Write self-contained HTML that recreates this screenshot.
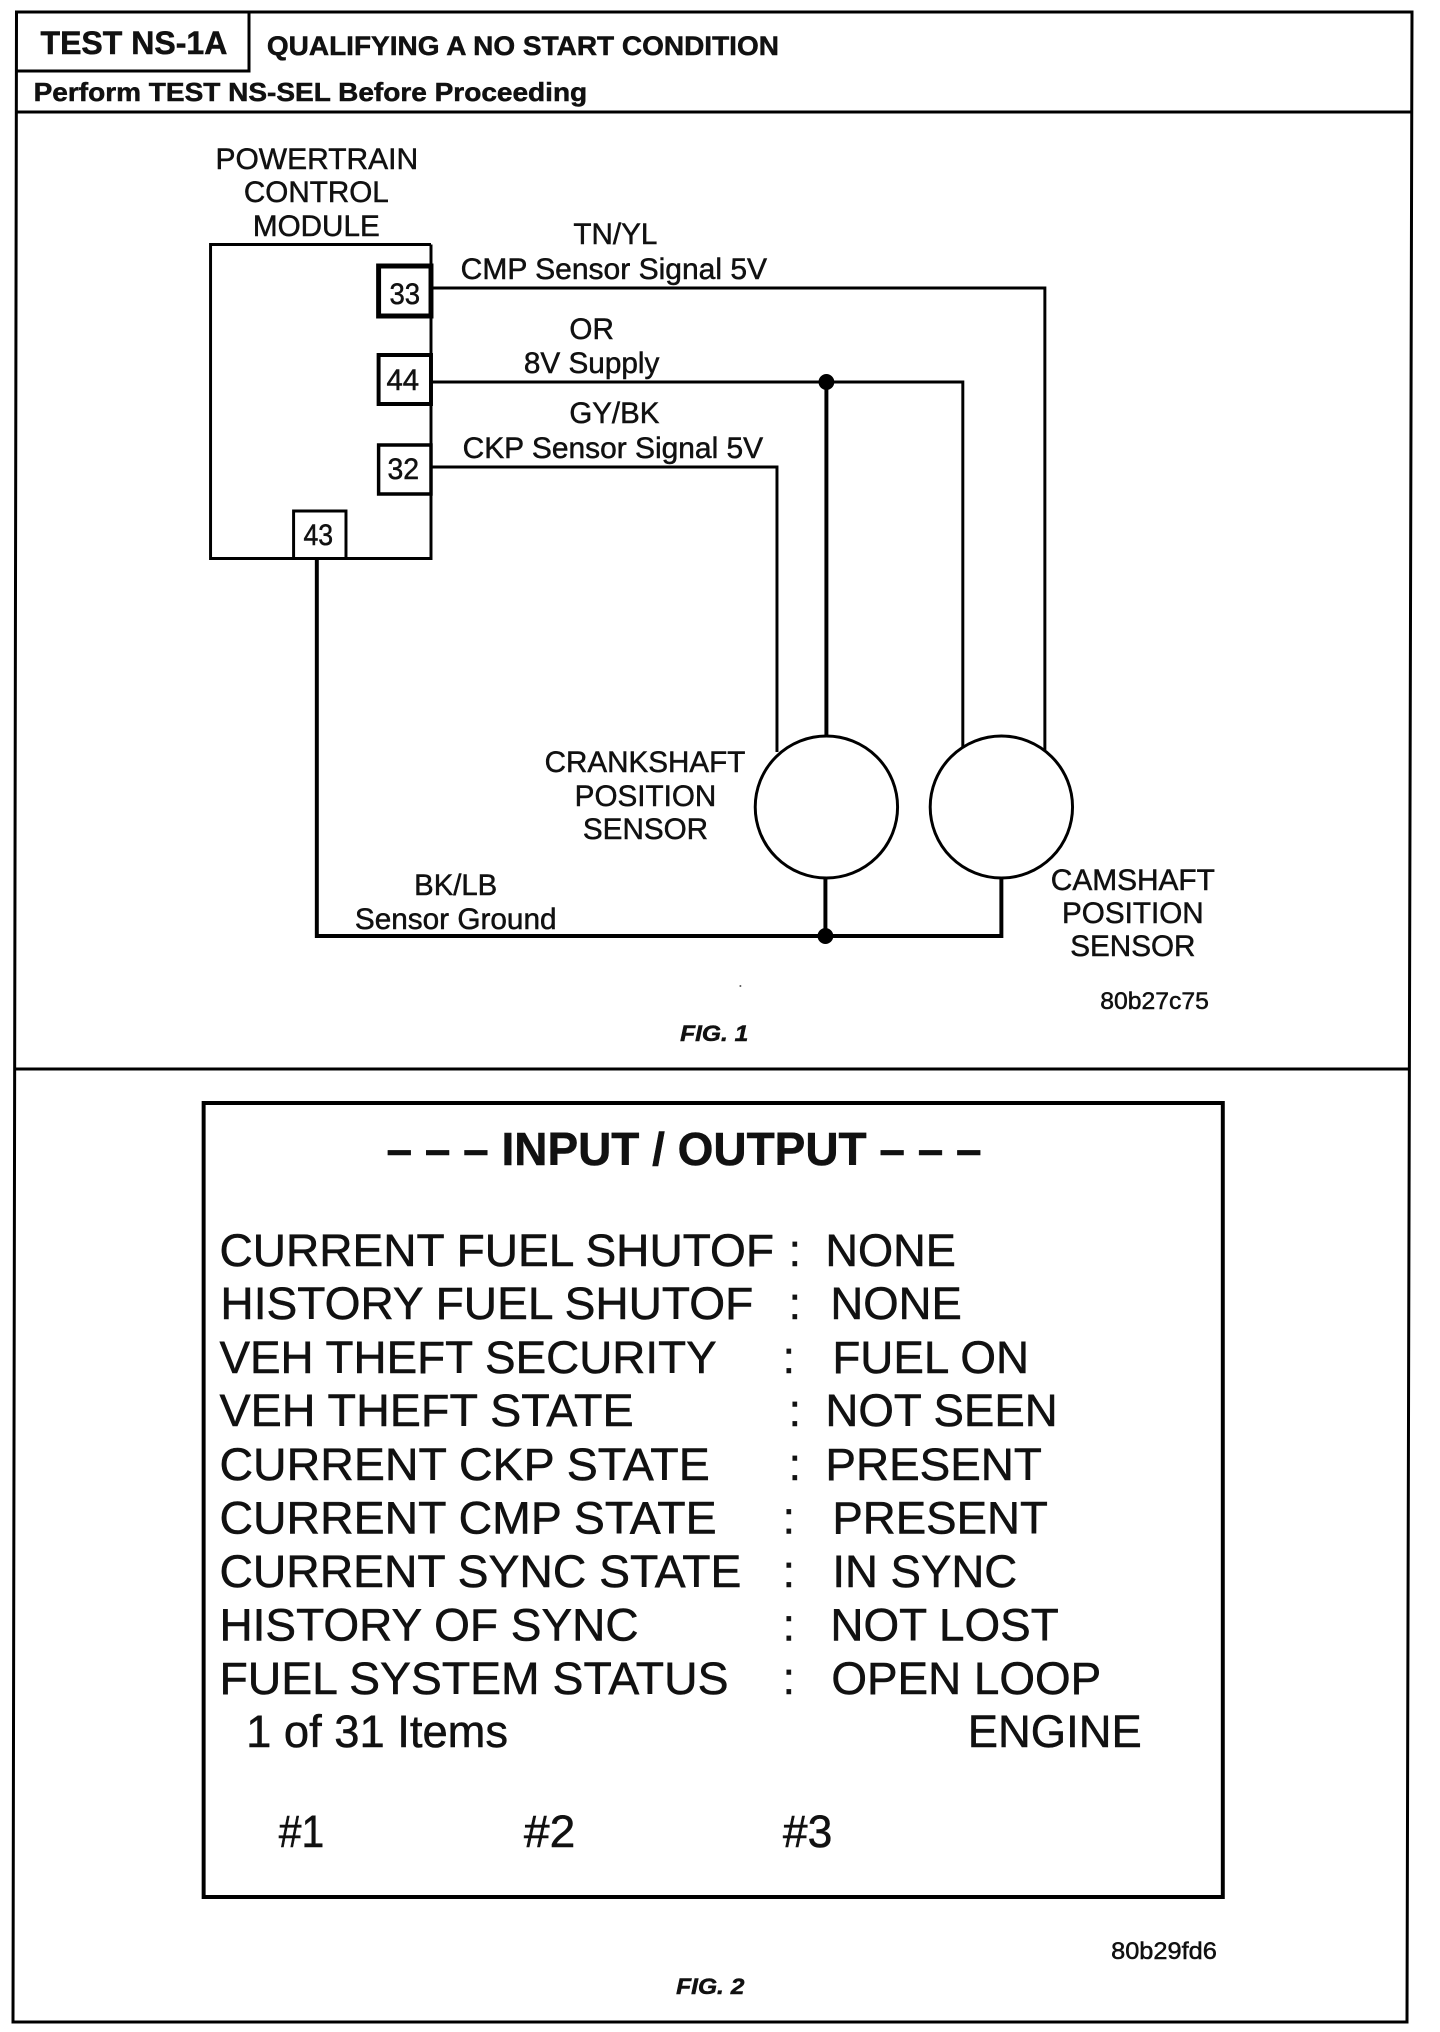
<!DOCTYPE html>
<html>
<head>
<meta charset="utf-8">
<style>
html,body{margin:0;padding:0;background:#fff;}
svg{display:block;}
text{font-family:"Liberation Sans",sans-serif;fill:#111;stroke:#111;stroke-width:.5;}
.b{font-weight:bold;}
.d{font-size:30px;}
.r{font-size:45px;}
.l{fill:none;stroke:#000;}
</style>
</head>
<body>
<svg width="1440" height="2032" viewBox="0 0 1440 2032" xmlns="http://www.w3.org/2000/svg">
<rect width="1440" height="2032" fill="#fff"/>
<!-- frame -->
<path class="l" stroke-width="3" d="M16.500 12H1412L1407 2022H13ZM16.500 112H1411M15 1069H1410M16.500 71H249V12"/>
<g transform="scale(.98852 1)">
<text class="b" x="41" y="54" font-size="32" textLength="189" lengthAdjust="spacingAndGlyphs">TEST NS-1A</text>
<text class="b" x="270" y="55" font-size="27" textLength="518" lengthAdjust="spacingAndGlyphs">QUALIFYING A NO START CONDITION</text>
<text class="b" x="34" y="101" font-size="26" textLength="560" lengthAdjust="spacingAndGlyphs">Perform TEST NS-SEL Before Proceeding</text>

<!-- module -->
<path class="l" stroke-width="3" d="M436 244.500H213V558.500H436V244.500"/>
<rect x="383" y="266" width="53" height="50" fill="#fff" stroke="#000" stroke-width="5"/>
<rect x="383" y="355" width="53" height="49" fill="#fff" stroke="#000" stroke-width="4"/>
<rect x="383" y="445" width="53" height="49" fill="#fff" stroke="#000" stroke-width="3.500"/>
<rect x="297" y="511" width="53" height="47.500" fill="#fff" stroke="#000" stroke-width="3"/>
<text class="d" x="394" y="304" textLength="31" lengthAdjust="spacingAndGlyphs">33</text>
<text class="d" x="391" y="390" textLength="33" lengthAdjust="spacingAndGlyphs">44</text>
<text class="d" x="392" y="479" textLength="32" lengthAdjust="spacingAndGlyphs">32</text>
<text class="d" x="307" y="545" textLength="30" lengthAdjust="spacingAndGlyphs">43</text>

<!-- wires -->
<path class="l" stroke-width="3" d="M436 288H1057V750"/>
<path class="l" stroke-width="3" d="M436 382H974V750"/>
<path class="l" stroke-width="3" d="M436 467H786V752"/>
<path class="l" stroke-width="4" d="M836 382V737"/>
<path class="l" stroke-width="4" d="M320.500 558V936H1013V878"/>
<path class="l" stroke-width="4" d="M835 878V936"/>
<circle cx="836" cy="382" r="8" fill="#000"/>
<circle cx="835" cy="936" r="8" fill="#000"/>
<ellipse cx="836" cy="807" rx="72" ry="71" fill="#fff" stroke="#000" stroke-width="3"/>
<ellipse cx="1013" cy="807" rx="72" ry="71" fill="#fff" stroke="#000" stroke-width="3"/>
<circle cx="749" cy="986" r="1" fill="#555"/>

<!-- labels -->
<text class="d" x="218" y="169" textLength="205" lengthAdjust="spacingAndGlyphs">POWERTRAIN</text>
<text class="d" x="320" y="202" text-anchor="middle">CONTROL</text>
<text class="d" x="320" y="236" text-anchor="middle">MODULE</text>
<text class="d" x="580" y="244" textLength="85" lengthAdjust="spacingAndGlyphs">TN/YL</text>
<text class="d" x="466" y="279" textLength="310" lengthAdjust="spacingAndGlyphs">CMP Sensor Signal 5V</text>
<text class="d" x="576" y="339" textLength="45" lengthAdjust="spacingAndGlyphs">OR</text>
<text class="d" x="530" y="373" textLength="137" lengthAdjust="spacingAndGlyphs">8V Supply</text>
<text class="d" x="576" y="423" textLength="91" lengthAdjust="spacingAndGlyphs">GY/BK</text>
<text class="d" x="468" y="458" textLength="304" lengthAdjust="spacingAndGlyphs">CKP Sensor Signal 5V</text>
<text class="d" x="551" y="772" textLength="203" lengthAdjust="spacingAndGlyphs">CRANKSHAFT</text>
<text class="d" x="653" y="806" text-anchor="middle">POSITION</text>
<text class="d" x="653" y="839" text-anchor="middle">SENSOR</text>
<text class="d" x="1063" y="890" textLength="166" lengthAdjust="spacingAndGlyphs">CAMSHAFT</text>
<text class="d" x="1146" y="923" text-anchor="middle">POSITION</text>
<text class="d" x="1146" y="956" text-anchor="middle">SENSOR</text>
<text class="d" x="419" y="895" textLength="84" lengthAdjust="spacingAndGlyphs">BK/LB</text>
<text class="d" x="359" y="929" textLength="204" lengthAdjust="spacingAndGlyphs">Sensor Ground</text>
<text x="1113" y="1009" font-size="24" textLength="110" lengthAdjust="spacingAndGlyphs">80b27c75</text>
<text class="b" x="688" y="1041" font-size="22" font-style="italic" textLength="69" lengthAdjust="spacingAndGlyphs">FIG. 1</text>

<!-- fig 2 -->
<rect x="206" y="1103" width="1031" height="794" fill="none" stroke="#000" stroke-width="4"/>
<text class="b" x="391" y="1165" font-size="46" textLength="602" lengthAdjust="spacingAndGlyphs">– – – INPUT / OUTPUT – – –</text>

<text class="r" x="222" y="1266" textLength="561" lengthAdjust="spacingAndGlyphs">CURRENT FUEL SHUTOF</text>
<text class="r" x="223" y="1319" textLength="539" lengthAdjust="spacingAndGlyphs">HISTORY FUEL SHUTOF</text>
<text class="r" x="222" y="1373" textLength="503" lengthAdjust="spacingAndGlyphs">VEH THEFT SECURITY</text>
<text class="r" x="222" y="1426" textLength="419" lengthAdjust="spacingAndGlyphs">VEH THEFT STATE</text>
<text class="r" x="222" y="1480" textLength="496" lengthAdjust="spacingAndGlyphs">CURRENT CKP STATE</text>
<text class="r" x="222" y="1533.500" textLength="503" lengthAdjust="spacingAndGlyphs">CURRENT CMP STATE</text>
<text class="r" x="222" y="1587" textLength="528" lengthAdjust="spacingAndGlyphs">CURRENT SYNC STATE</text>
<text class="r" x="222" y="1640.500" textLength="424" lengthAdjust="spacingAndGlyphs">HISTORY OF SYNC</text>
<text class="r" x="222" y="1694" textLength="515" lengthAdjust="spacingAndGlyphs">FUEL SYSTEM STATUS</text>
<text class="r" x="249" y="1747" textLength="265" lengthAdjust="spacingAndGlyphs">1 of 31 Items</text>

<text class="r" x="804" y="1266" text-anchor="middle">:</text>
<text class="r" x="804" y="1319" text-anchor="middle">:</text>
<text class="r" x="798" y="1373" text-anchor="middle">:</text>
<text class="r" x="804" y="1426" text-anchor="middle">:</text>
<text class="r" x="804" y="1480" text-anchor="middle">:</text>
<text class="r" x="798" y="1533.500" text-anchor="middle">:</text>
<text class="r" x="798" y="1587" text-anchor="middle">:</text>
<text class="r" x="798" y="1640.500" text-anchor="middle">:</text>
<text class="r" x="798" y="1694" text-anchor="middle">:</text>

<text class="r" x="835" y="1266" textLength="132" lengthAdjust="spacingAndGlyphs">NONE</text>
<text class="r" x="840" y="1319" textLength="133" lengthAdjust="spacingAndGlyphs">NONE</text>
<text class="r" x="842" y="1373" textLength="199" lengthAdjust="spacingAndGlyphs">FUEL ON</text>
<text class="r" x="835" y="1426" textLength="235" lengthAdjust="spacingAndGlyphs">NOT SEEN</text>
<text class="r" x="835" y="1480" textLength="219" lengthAdjust="spacingAndGlyphs">PRESENT</text>
<text class="r" x="842" y="1533.500" textLength="218" lengthAdjust="spacingAndGlyphs">PRESENT</text>
<text class="r" x="842" y="1587" textLength="187" lengthAdjust="spacingAndGlyphs">IN SYNC</text>
<text class="r" x="840" y="1640.500" textLength="231" lengthAdjust="spacingAndGlyphs">NOT LOST</text>
<text class="r" x="841" y="1694" textLength="273" lengthAdjust="spacingAndGlyphs">OPEN LOOP</text>
<text class="r" x="979" y="1747" textLength="176" lengthAdjust="spacingAndGlyphs">ENGINE</text>

<text class="r" x="282" y="1847" textLength="46" lengthAdjust="spacingAndGlyphs">#1</text>
<text class="r" x="530" y="1847" textLength="52" lengthAdjust="spacingAndGlyphs">#2</text>
<text class="r" x="792" y="1847" textLength="50" lengthAdjust="spacingAndGlyphs">#3</text>

<text x="1124" y="1959" font-size="24" textLength="107" lengthAdjust="spacingAndGlyphs">80b29fd6</text>
<text class="b" x="684" y="1994" font-size="22" font-style="italic" textLength="69" lengthAdjust="spacingAndGlyphs">FIG. 2</text>
</g>
</svg>
</body>
</html>
